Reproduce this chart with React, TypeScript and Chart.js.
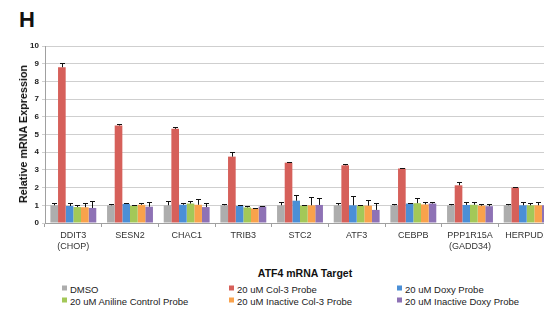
import React, { useEffect, useRef } from "react";
import { Chart, registerables } from "chart.js";

Chart.register(...registerables);

const categories: (string | string[])[] = [
  ["DDIT3", "(CHOP)"], "SESN2", "CHAC1", "TRIB3", "STC2", "ATF3", "CEBPB", ["PPP1R15A", "(GADD34)"], "HERPUD1",
];
const seriesNames = [
  "DMSO", "20 uM Col-3 Probe", "20 uM Doxy Probe",
  "20 uM Aniline Control Probe", "20 uM Inactive Col-3 Probe", "20 uM Inactive Doxy Probe",
];
const seriesColors = ["#adadad", "#d6605a", "#4b8fd6", "#a3c858", "#f9a24c", "#8e72b5"];

const dmso = [1.0, 1.0, 1.0, 1.0, 1.0, 1.0, 1.0, 1.0, 1.0];
const col3 = [8.8, 5.51, 5.32, 3.75, 3.41, 3.26, 3.08, 2.13, 2.0];
const doxy = [0.96, 1.08, 1.03, 0.96, 1.26, 1.0, 1.1, 1.02, 1.0];
const aniline = [0.9, 0.97, 1.1, 0.88, 0.98, 0.98, 1.12, 1.03, 1.0];
const inactiveCol3 = [0.89, 1.03, 1.03, 0.82, 1.0, 0.98, 1.05, 0.98, 1.0];
const inactiveDoxy = [0.85, 0.92, 0.9, 0.93, 1.02, 0.74, 1.1, 0.95, 1.0];

const dmsoErr = [0.15, 0.1, 0.22, 0.1, 0.2, 0.13, 0.08, 0.08, 0.08];
const col3Err = [0.22, 0.11, 0.08, 0.27, 0.04, 0.08, 0.05, 0.19, 0.02];
const doxyErr = [0.19, 0.07, 0.12, 0.04, 0.34, 0.53, 0.02, 0.15, 0.17];
const anilineErr = [0.1, 0.03, 0.15, 0.08, 0.02, 0.02, 0.28, 0.17, 0.15];
const inactiveCol3Err = [0.26, 0.12, 0.3, 0.05, 0.45, 0.32, 0.15, 0.12, 0.17];
const inactiveDoxyErr = [0.37, 0.28, 0.25, 0.03, 0.38, 0.39, 0.1, 0.13, 0.15];

const yTicks = [0, 1, 2, 3, 4, 5, 6, 7, 8, 9, 10];

const seriesValues = [dmso, col3, doxy, aniline, inactiveCol3, inactiveDoxy];
const seriesErrors = [dmsoErr, col3Err, doxyErr, anilineErr, inactiveCol3Err, inactiveDoxyErr];

const FONT = "'Liberation Sans', Arial, Helvetica, sans-serif";

const errorBarPlugin = {
  id: "errorBars",
  afterDatasetsDraw(chart: any) {
    const ctx = chart.ctx;
    const yScale = chart.scales.y;
    ctx.save();
    ctx.strokeStyle = "#111";
    ctx.lineWidth = 1;
    chart.data.datasets.forEach((ds: any, di: number) => {
      const meta = chart.getDatasetMeta(di);
      meta.data.forEach((bar: any, i: number) => {
        const v = ds.data[i];
        const e = seriesErrors[di][i];
        const x = Math.round(bar.x) + 0.5;
        const y0 = bar.y;
        const y1 = Math.round(yScale.getPixelForValue(v + e)) + 0.5;
        ctx.beginPath();
        ctx.moveTo(x, y0);
        ctx.lineTo(x, y1);
        ctx.moveTo(x - 2.5, y1);
        ctx.lineTo(x + 2.5, y1);
        ctx.stroke();
      });
    });
    ctx.restore();
  },
};

export default function App() {
  const ref = useRef<HTMLCanvasElement>(null);
  useEffect(() => {
    document.body.style.margin = "0";
    const chart = new Chart(ref.current!, {
      type: "bar",
      data: {
        labels: categories,
        datasets: seriesNames.map((name, i) => ({
          label: name,
          data: seriesValues[i],
          backgroundColor: seriesColors[i],
          borderWidth: 0,
          categoryPercentage: 0.81,
          barPercentage: 1.0,
        })),
      },
      options: {
        animation: false,
        responsive: false,
        maintainAspectRatio: false,
        layout: { padding: { top: 46, left: 0, right: 8, bottom: 0 } },
        plugins: { legend: { display: false }, tooltip: { enabled: false }, title: { display: false } },
        scales: {
          x: {
            grid: { display: true, drawOnChartArea: false, drawTicks: true, tickLength: 4, color: "#a0a0a0", offset: true },
            border: { color: "#a0a0a0" },
            ticks: { color: "#333", font: { family: FONT, size: 9 }, padding: 3, maxRotation: 0, autoSkip: false },
            afterFit: (s: any) => { s.height = 32; },
          },
          y: {
            min: 0,
            max: 10,
            afterBuildTicks: (s: any) => { s.ticks = yTicks.map((v) => ({ value: v })); },
            grid: { color: "#cfcfcf", tickLength: 3 },
            border: { color: "#a0a0a0" },
            ticks: { color: "#222", font: { family: FONT, size: 8, weight: "bold" }, padding: 3 },
            afterFit: (s: any) => { s.width = 45; },
          },
        },
      } as any,
      plugins: [errorBarPlugin],
    });
    return () => chart.destroy();
  }, []);

  const legendCols = [62, 229, 397];
  const legendRows = [289, 301];
  const order = [0, 3, 1, 4, 2, 5];

  return (
    <div style={{ position: "fixed", left: 0, top: 0, width: 544, height: 311, overflow: "hidden", background: "#fff", fontFamily: FONT }}>
      <div style={{ position: "absolute", left: 19, top: 7, fontSize: 22, fontWeight: "bold", color: "#111", lineHeight: "26px" }}>H</div>
      <canvas ref={ref} width={563} height={255} style={{ position: "absolute", left: 0, top: 0, width: 563, height: 255 }} />
      <div style={{ position: "absolute", left: 23, top: 134, transform: "translate(-50%, -50%) rotate(-90deg)", whiteSpace: "nowrap", fontSize: 10.8, fontWeight: "bold", color: "#111" }}>
        Relative mRNA Expression
      </div>
      <div style={{ position: "absolute", left: 305, top: 273, transform: "translate(-50%, -50%)", whiteSpace: "nowrap", fontSize: 10.5, fontWeight: "bold", color: "#111" }}>
        ATF4 mRNA Target
      </div>
      {order.map((si, k) => {
        const col = Math.floor(k / 2);
        const row = k % 2;
        return (
          <div key={si} style={{ position: "absolute", left: legendCols[col], top: legendRows[row], transform: "translateY(-50%)", display: "flex", alignItems: "center", whiteSpace: "nowrap", fontSize: 9.5, color: "#222" }}>
            <span style={{ display: "inline-block", width: 5, height: 5, background: seriesColors[si], marginRight: 3, marginTop: -3 }} />
            <span>{seriesNames[si]}</span>
          </div>
        );
      })}
    </div>
  );
}
